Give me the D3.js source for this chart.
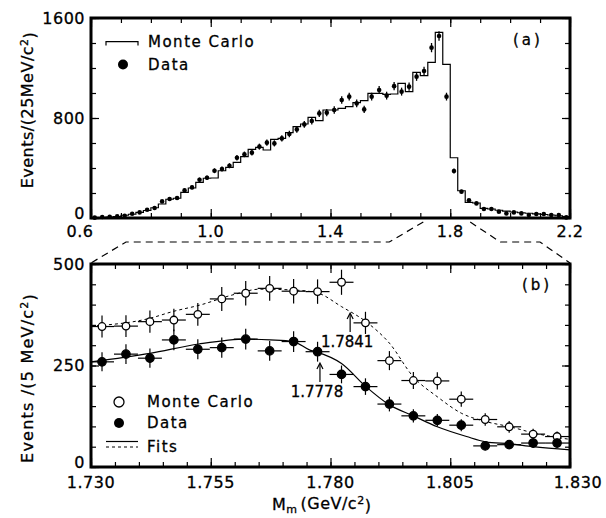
<!DOCTYPE html>
<html>
<head>
<meta charset="utf-8">
<script src="https://cdnjs.cloudflare.com/ajax/libs/d3/7.8.5/d3.min.js"></script>
<style>
  body { margin: 0; background: #fff; }
  svg { display: block; }
  text { font-family: "DejaVu Sans", sans-serif; fill: #000; stroke: #000; stroke-width: 0.3px; }
</style>
</head>
<body>
<svg id="chart" width="606" height="518"></svg>
<script>
// ---- panel (a): 25 MeV bins, 0.6 - 2.2 GeV ----
var topCenters = [
  0.6125, 0.6375, 0.6625, 0.6875, 0.7125, 0.7375, 0.7625, 0.7875,
  0.8125, 0.8375, 0.8625, 0.8875, 0.9125, 0.9375, 0.9625, 0.9875,
  1.0125, 1.0375, 1.0625, 1.0875, 1.1125, 1.1375, 1.1625, 1.1875,
  1.2125, 1.2375, 1.2625, 1.2875, 1.3125, 1.3375, 1.3625, 1.3875,
  1.4125, 1.4375, 1.4625, 1.4875, 1.5125, 1.5375, 1.5625, 1.5875,
  1.6125, 1.6375, 1.6625, 1.6875, 1.7125, 1.7375, 1.7625, 1.7875,
  1.8125, 1.8375, 1.8625, 1.8875, 1.9125, 1.9375, 1.9625, 1.9875,
  2.0125, 2.0375, 2.0625, 2.0875, 2.1125, 2.1375, 2.1625, 2.1875
];
var topMC = [
  2, 4, 8, 12, 22, 30, 45, 60,
  82, 112, 150, 158, 205, 240, 285, 318,
  320, 378, 405, 445, 491, 549, 565, 544,
  629, 637, 683, 731, 752, 805, 779, 864,
  864, 877, 891, 923, 939, 997, 997, 989,
  992, 1077, 1011, 1165, 1139, 1245, 1485, 1229,
  482, 218, 125, 120, 77, 72, 62, 55,
  48, 42, 38, 33, 28, 24, 18, 12
];
var topData = [
  3, 8, 10, 13, 18, 34, 45, 66,
  80, 133, 152, 160, 221, 245, 306, 322,
  378, 392, 418, 482, 509, 523, 571, 603,
  597, 637, 672, 709, 749, 776, 837, 843,
  864, 944, 971, 917, 869, 971, 1024, 979,
  1055, 1011, 1051, 1131, 1176, 1363, 1456, 971,
  376, 211, 142, 117, 72, 72, 51, 37,
  45, 37, 24, 32, 32, 24, 24, 5
];
var topXTicks = [0.6, 1.0, 1.4, 1.8, 2.2];
var topYTicks = [0, 800, 1600];

// ---- panel (b): 5 MeV bins, 1.730 - 1.830 GeV ----
var botCenters = [
  1.7323, 1.7373, 1.7423, 1.7473, 1.7523, 1.7573, 1.7623, 1.7673, 1.7723, 1.7773,
  1.7823, 1.7873, 1.7923, 1.7973, 1.8023, 1.8073, 1.8123, 1.8173, 1.8223, 1.8273
];
var botMC = [346, 347, 358, 362, 376, 414, 428, 440, 433, 432,
             455, 355, 262, 213, 212, 167, 117, 99, 81, 75];
var botData = [259, 278, 268, 313, 290, 294, 315, 286, 309, 284,
               228, 198, 155, 126, 115, 103, 52, 55, 59, 59];
var fitDataX = [1.730, 1.7423, 1.7525, 1.7624, 1.7674, 1.7722, 1.7757, 1.7772, 1.7823,
                1.7874, 1.7923, 1.7973, 1.8023, 1.8084, 1.8124, 1.8175, 1.8223, 1.830];
var fitDataY = [259, 280, 303, 315, 313, 309, 288, 283, 255,
                198, 153, 126, 99, 75, 62, 57, 50, 42];
var fitMCX = [1.730, 1.7422, 1.7471, 1.7528, 1.7596, 1.7653, 1.7722, 1.7772, 1.7823,
              1.7874, 1.7923, 1.7973, 1.8023, 1.8074, 1.8124, 1.8175, 1.8227, 1.830];
var fitMCY = [347, 366, 383, 399, 424, 438, 436, 429, 395,
              358, 305, 222, 173, 132, 112, 99, 83, 68];
var botXTicks = [1.730, 1.755, 1.780, 1.805, 1.830];
var botXLabels = ["1.730", "1.755", "1.780", "1.805", "1.830"];
var botYTicks = [0, 250, 500];
var peaks = [
  { label: "1.7841", x: 1.7841, series: "mc" },
  { label: "1.7778", x: 1.7778, series: "data" }
];

var svg = d3.select("#chart");
var L = 91, R = 570;

var xTop = d3.scaleLinear().domain([0.6, 2.2]).range([L, R]);
var yTop = d3.scaleLinear().domain([0, 1600]).range([218, 18]);
var xBot = d3.scaleLinear().domain([1.730, 1.830]).range([L, R]);
var yBot = d3.scaleLinear().domain([0, 500]).range([467, 264]);

/**
 * inward ticks on all four sides, major + minor
 */
function drawFrame(x, y, xMajor, xMinor, yMajor, yMinor) {
  var g = svg.append("g");
  var x0 = x.range()[0], x1 = x.range()[1];
  var y0 = y.range()[0], y1 = y.range()[1];

  g.append("g").attr("transform", "translate(0," + y0 + ")")
    .call(d3.axisBottom(x).tickValues(xMinor).tickSize(-5).tickFormat(""));
  g.append("g").attr("transform", "translate(0," + y0 + ")")
    .call(d3.axisBottom(x).tickValues(xMajor).tickSize(-9).tickFormat(""));
  g.append("g").attr("transform", "translate(0," + y1 + ")")
    .call(d3.axisTop(x).tickValues(xMinor).tickSize(-5).tickFormat(""));
  g.append("g").attr("transform", "translate(0," + y1 + ")")
    .call(d3.axisTop(x).tickValues(xMajor).tickSize(-9).tickFormat(""));
  g.append("g").attr("transform", "translate(" + x0 + ",0)")
    .call(d3.axisLeft(y).tickValues(yMinor).tickSize(-5).tickFormat(""));
  g.append("g").attr("transform", "translate(" + x0 + ",0)")
    .call(d3.axisLeft(y).tickValues(yMajor).tickSize(-8).tickFormat(""));
  g.append("g").attr("transform", "translate(" + x1 + ",0)")
    .call(d3.axisRight(y).tickValues(yMinor).tickSize(-5).tickFormat(""));
  g.append("g").attr("transform", "translate(" + x1 + ",0)")
    .call(d3.axisRight(y).tickValues(yMajor).tickSize(-8).tickFormat(""));
  g.selectAll(".domain").remove();
  g.selectAll(".tick line").attr("stroke", "#000").attr("stroke-width", 1.2);

  g.append("rect")
    .attr("x", x0).attr("y", y1)
    .attr("width", x1 - x0).attr("height", y0 - y1)
    .attr("fill", "none").attr("stroke", "#000").attr("stroke-width", 3);
}

// ---------- panel (a) ----------
drawFrame(xTop, yTop, topXTicks, xTop.ticks(16), topYTicks, yTop.ticks(8));

var half = 0.0125;
var stepPts = topCenters.map(function(c, i) { return [c - half, topMC[i]]; });
stepPts.unshift([0.6, 0]);
stepPts.push([topCenters[topCenters.length - 1] + half, topMC[topMC.length - 1]]);
svg.append("path")
  .attr("d", d3.line().x(function(d) { return xTop(d[0]); })
    .y(function(d) { return yTop(d[1]); }).curve(d3.curveStepAfter)(stepPts))
  .attr("fill", "none").attr("stroke", "#000").attr("stroke-width", 1.2);

var topPts = svg.append("g").selectAll("g").data(topCenters).join("g");
topPts.append("line")
  .attr("x1", function(d) { return xTop(d); })
  .attr("x2", function(d) { return xTop(d); })
  .attr("y1", function(d, i) { return yTop(topData[i] + Math.sqrt(topData[i])); })
  .attr("y2", function(d, i) { return yTop(topData[i] - Math.sqrt(topData[i])); })
  .attr("stroke", "#000").attr("stroke-width", 1.3);
topPts.append("circle")
  .attr("cx", function(d) { return xTop(d); })
  .attr("cy", function(d, i) { return yTop(topData[i]); })
  .attr("r", 2.3).attr("fill", "#000");

// tick labels (a)
svg.selectAll(".tyl").data(topYTicks).join("text")
  .attr("x", 85).attr("y", function(d) { return yTop(d) - (d === 0 ? 5 : 0); })
  .attr("dy", "0.36em").attr("text-anchor", "end")
  .style("font-size", "16px").style("letter-spacing", "0.5px")
  .text(function(d) { return d; });
svg.selectAll(".txl").data(topXTicks).join("text")
  .attr("x", function(d, i) { return xTop(d) - (i === 0 ? 11 : 0); })
  .attr("y", 237).attr("text-anchor", "middle")
  .style("font-size", "16px").style("letter-spacing", "0.5px")
  .text(function(d) { return d.toFixed(1); });

svg.append("text")
  .attr("transform", "translate(33,110) rotate(-90)")
  .attr("text-anchor", "middle")
  .style("font-size", "16px").style("letter-spacing", "0.5px")
  .call(function(t) {
    t.append("tspan").text("Events/(25MeV/c");
    t.append("tspan").attr("dy", "-0.45em").style("font-size", "11px").text("2");
    t.append("tspan").attr("dy", "0.45em").text(")");
  });

svg.append("text").attr("x", 513).attr("y", 45)
  .style("font-size", "15px").style("letter-spacing", "3px").text("(a)");

// legend (a)
svg.append("path").attr("d", "M106,45.5V41.7H138V45.5")
  .attr("fill", "none").attr("stroke", "#000").attr("stroke-width", 1.2);
svg.append("text").attr("x", 148).attr("y", 47)
  .style("font-size", "15px").style("letter-spacing", "1.5px").text("Monte Carlo");
svg.append("circle").attr("cx", 123).attr("cy", 64.5).attr("r", 5).attr("fill", "#000");
svg.append("text").attr("x", 148).attr("y", 70)
  .style("font-size", "15px").style("letter-spacing", "1.5px").text("Data");

// zoom connectors
var dash = "7,5";
svg.append("path")
  .attr("d", d3.line()([[xTop(1.73) - 6, 222], [xTop(1.73) - 40, 242], [L + 35, 242], [L, 263]]))
  .attr("fill", "none").attr("stroke", "#000").attr("stroke-width", 1.2).attr("stroke-dasharray", dash);
svg.append("path")
  .attr("d", d3.line()([[xTop(1.83) + 11, 222], [xTop(1.83) + 41, 242], [R - 30, 242], [R, 263]]))
  .attr("fill", "none").attr("stroke", "#000").attr("stroke-width", 1.2).attr("stroke-dasharray", dash);

// ---------- panel (b) ----------
drawFrame(xBot, yBot, botXTicks, xBot.ticks(20), botYTicks, yBot.ticks(10));

var fitLine = d3.line().curve(d3.curveMonotoneX);
svg.append("path")
  .attr("d", fitLine(fitMCX.map(function(d, i) { return [xBot(d), yBot(fitMCY[i])]; })))
  .attr("fill", "none").attr("stroke", "#000").attr("stroke-width", 1).attr("stroke-dasharray", "3,3");
svg.append("path")
  .attr("d", fitLine(fitDataX.map(function(d, i) { return [xBot(d), yBot(fitDataY[i])]; })))
  .attr("fill", "none").attr("stroke", "#000").attr("stroke-width", 1.2);

function drawPoints(vals, filled) {
  var g = svg.append("g").selectAll("g").data(botCenters).join("g");
  g.append("line")
    .attr("x1", function(d) { return xBot(d - 0.0025); })
    .attr("x2", function(d) { return xBot(d + 0.0025); })
    .attr("y1", function(d, i) { return yBot(vals[i]); })
    .attr("y2", function(d, i) { return yBot(vals[i]); })
    .attr("stroke", "#000").attr("stroke-width", 1.2);
  g.append("line")
    .attr("x1", function(d) { return xBot(d); })
    .attr("x2", function(d) { return xBot(d); })
    .attr("y1", function(d, i) { return yBot(vals[i] + 1.45 * Math.sqrt(vals[i])); })
    .attr("y2", function(d, i) { return yBot(vals[i] - 1.45 * Math.sqrt(vals[i])); })
    .attr("stroke", "#000").attr("stroke-width", 1.2);
  g.append("circle")
    .attr("cx", function(d) { return xBot(d); })
    .attr("cy", function(d, i) { return yBot(vals[i]); })
    .attr("r", filled ? 4.2 : 3.8)
    .attr("fill", filled ? "#000" : "#fff")
    .attr("stroke", "#000").attr("stroke-width", 1.3);
}
drawPoints(botMC, false);
drawPoints(botData, true);

// peak markers
peaks.forEach(function(p) {
  var xp = xBot(p.x);
  var top = p.series === "mc" ? 313 : 363;
  var g = svg.append("g");
  g.append("line").attr("x1", xp).attr("x2", xp).attr("y1", top + 1).attr("y2", top + 19)
    .attr("stroke", "#000").attr("stroke-width", 1.2);
  g.append("path").attr("d", "M" + (xp - 3) + "," + (top + 6) + "L" + xp + "," + top + "L" + (xp + 3) + "," + (top + 6))
    .attr("fill", "none").attr("stroke", "#000").attr("stroke-width", 1.2);
  g.append("text").attr("x", xp - 3).attr("y", top + 34).attr("text-anchor", "middle")
    .style("font-size", "15px").text(p.label);
});

// tick labels (b)
svg.selectAll(".byl").data(botYTicks).join("text")
  .attr("x", 85).attr("y", function(d) { return yBot(d) - (d === 0 ? 5 : 0); })
  .attr("dy", "0.36em").attr("text-anchor", "end")
  .style("font-size", "16px").style("letter-spacing", "0.5px")
  .text(function(d) { return d; });
svg.selectAll(".bxl").data(botXTicks).join("text")
  .attr("x", function(d, i) { return xBot(d) + (i === 4 ? 8 : 0); })
  .attr("y", 488).attr("text-anchor", "middle")
  .style("font-size", "16px").style("letter-spacing", "0.5px")
  .text(function(d, i) { return botXLabels[i]; });

svg.append("text")
  .attr("transform", "translate(33,378) rotate(-90)")
  .attr("text-anchor", "middle")
  .style("font-size", "16px").style("letter-spacing", "1.2px")
  .call(function(t) {
    t.append("tspan").text("Events /(5 MeV/c");
    t.append("tspan").attr("dy", "-0.45em").style("font-size", "11px").text("2");
    t.append("tspan").attr("dy", "0.45em").text(")");
  });

svg.append("text").attr("x", 272).attr("y", 510)
  .style("font-size", "16px").style("letter-spacing", "0.5px")
  .call(function(t) {
    t.append("tspan").text("M");
    t.append("tspan").attr("dy", "0.3em").style("font-size", "11px").text("m");
    t.append("tspan").attr("dy", "-0.3em").attr("dx", "3").text("(GeV/c");
    t.append("tspan").attr("dy", "-0.45em").style("font-size", "11px").text("2");
    t.append("tspan").attr("dy", "0.45em").text(")");
  });

svg.append("text").attr("x", 522).attr("y", 290)
  .style("font-size", "15px").style("letter-spacing", "3px").text("(b)");

// legend (b)
svg.append("circle").attr("cx", 119).attr("cy", 402).attr("r", 5)
  .attr("fill", "#fff").attr("stroke", "#000").attr("stroke-width", 1.3);
svg.append("text").attr("x", 147).attr("y", 407)
  .style("font-size", "15px").style("letter-spacing", "1.5px").text("Monte Carlo");
svg.append("circle").attr("cx", 119).attr("cy", 423).attr("r", 5).attr("fill", "#000");
svg.append("text").attr("x", 147).attr("y", 428)
  .style("font-size", "15px").style("letter-spacing", "1.5px").text("Data");
svg.append("line").attr("x1", 106).attr("x2", 138).attr("y1", 441.5).attr("y2", 441.5)
  .attr("stroke", "#000").attr("stroke-width", 1.2);
svg.append("line").attr("x1", 106).attr("x2", 138).attr("y1", 447).attr("y2", 447)
  .attr("stroke", "#000").attr("stroke-width", 1).attr("stroke-dasharray", "3,3");
svg.append("text").attr("x", 147).attr("y", 452)
  .style("font-size", "15px").style("letter-spacing", "1.5px").text("Fits");
</script>
</body>
</html>
